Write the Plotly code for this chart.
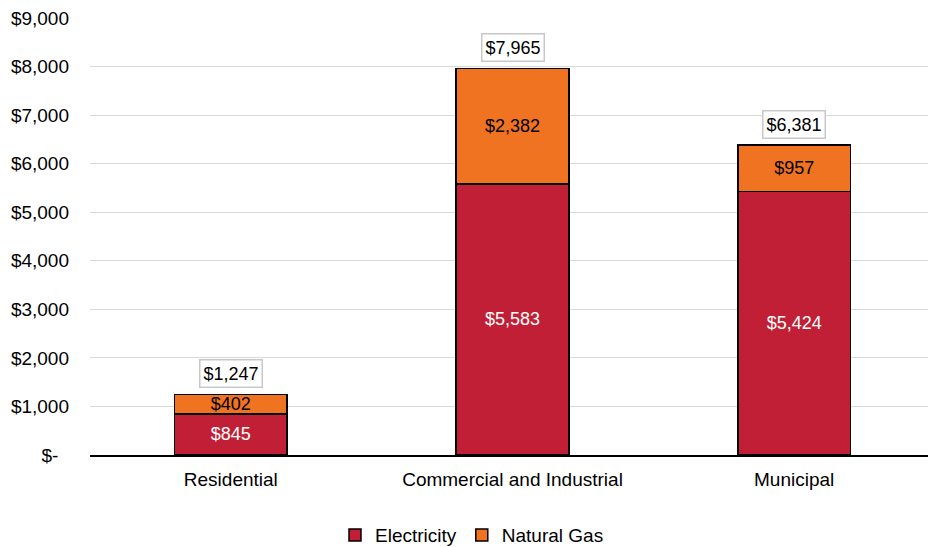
import plotly.graph_objects as go

categories = ["Residential", "Commercial and Industrial", "Municipal"]
electricity = [845, 5583, 5424]
natural_gas = [402, 2382, 957]
totals = [e + g for e, g in zip(electricity, natural_gas)]
y_tickvals = [0, 1000, 2000, 3000, 4000, 5000, 6000, 7000, 8000, 9000]
y_ticktext = ["$-\u00a0\u00a0", "$1,000", "$2,000", "$3,000", "$4,000", "$5,000",
              "$6,000", "$7,000", "$8,000", "$9,000"]

FONT = "Liberation Sans, Arial, sans-serif"

fig = go.Figure()
fig.add_trace(go.Bar(
    x=categories, y=electricity, name="Electricity",
    marker=dict(color="#C01F35", line=dict(color="#000000", width=1.5)),
    text=[f"${v:,}" for v in electricity], textposition="inside",
    insidetextanchor="middle",
    textfont=dict(color="white", size=18, family=FONT),
    width=0.4,
))
fig.add_trace(go.Bar(
    x=categories, y=natural_gas, name="Natural Gas",
    marker=dict(color="#F07322", line=dict(color="#000000", width=1.5)),
    text=[f"${v:,}" for v in natural_gas], textposition="inside",
    insidetextanchor="middle",
    textfont=dict(color="black", size=18, family=FONT),
    width=0.4,
))

for c, t in zip(categories, totals):
    fig.add_annotation(
        x=c, y=t, text=f"${t:,}", showarrow=False,
        yanchor="bottom", yshift=6,
        font=dict(size=18, color="black", family=FONT),
        bgcolor="white", bordercolor="#C8C8C8", borderwidth=1.5, borderpad=3,
    )

fig.update_layout(
    barmode="stack",
    width=928, height=539,
    margin=dict(l=82, r=1, t=10, b=92),
    paper_bgcolor="white", plot_bgcolor="white",
    font=dict(family=FONT, size=19, color="#000000"),
    uniformtext=dict(mode="show", minsize=18),
    showlegend=True,
    legend=dict(orientation="h", xref="container", yref="container",
                x=0.5, xanchor="center", y=0.022, yanchor="middle",
                font=dict(size=19, color="#000000"), traceorder="normal",
                itemwidth=30, tracegroupgap=0),
)
fig.update_xaxes(
    showline=True, linecolor="#000000", linewidth=1.5,
    tickfont=dict(size=19, color="#000000"), ticks="",
    showgrid=False, ticklabelstandoff=6,
)
fig.update_yaxes(
    range=[0, 9000], tickvals=y_tickvals, ticktext=y_ticktext,
    showgrid=True, gridcolor="#D9D9D9", gridwidth=1,
    zeroline=False, showline=False,
    tickfont=dict(size=19, color="#000000"), ticks="",
    ticklabelstandoff=20, ticklabeloverflow="allow",
)

fig.write_html("out.html")
